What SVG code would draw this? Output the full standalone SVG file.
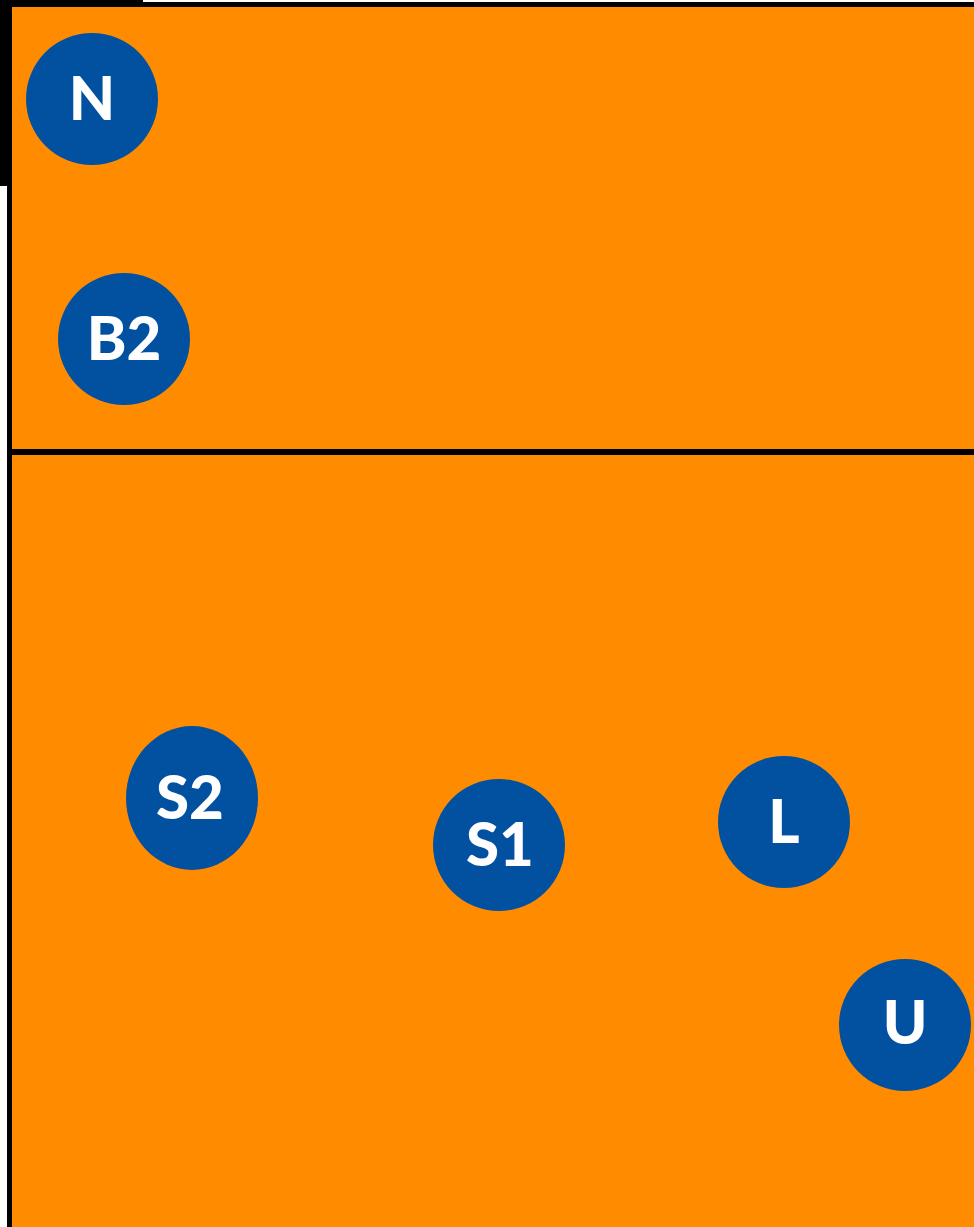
<svg xmlns="http://www.w3.org/2000/svg" width="974" height="1227" viewBox="0 0 974 1227">
<style>
.n{fill:#0251A1}
.t{fill:#fff;font-family:Lato,"Liberation Sans",sans-serif;font-weight:900;font-size:60px;text-anchor:middle;dominant-baseline:central}
</style>
<rect width="974" height="1227" fill="#fff"/>
<rect x="0" y="0" width="143" height="7" fill="#000"/>
<rect x="143" y="2" width="831" height="5" fill="#000"/>
<rect x="0" y="0" width="12" height="186" fill="#000"/>
<rect x="7" y="0" width="5" height="1227" fill="#000"/>
<rect x="12" y="7" width="962" height="1220" fill="#FF8C00"/>
<rect x="12" y="449" width="962" height="6" fill="#000"/>
<g id="N"><circle class="n" cx="92" cy="99" r="66"/><text class="t" x="92" y="97">N</text></g>
<g id="B2"><circle class="n" cx="124" cy="339" r="66"/><text class="t" x="124" y="337">B2</text></g>
<g id="S2"><ellipse class="n" cx="192" cy="798" rx="66" ry="72"/><text class="t" x="190" y="796">S2</text></g>
<g id="S1"><circle class="n" cx="499" cy="845" r="66"/><text class="t" x="500" y="843">S1</text></g>
<g id="L"><circle class="n" cx="784" cy="822" r="66"/><text class="t" x="784" y="820">L</text></g>
<g id="U"><circle class="n" cx="905" cy="1025" r="66"/><text class="t" x="905" y="1021">U</text></g>
<g id="connectors"></g>
</svg>
